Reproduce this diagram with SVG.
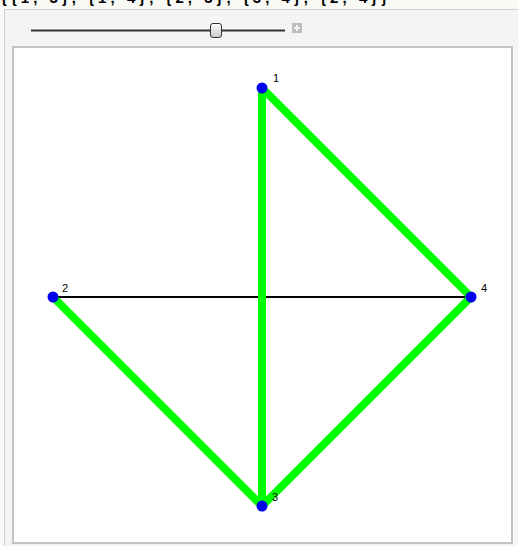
<svg xmlns="http://www.w3.org/2000/svg" width="518" height="546" viewBox="0 0 518 546">
<defs>
<style>
.lbl{font-family:"Liberation Sans",Arial,sans-serif;font-size:11px;fill:#000}
.g{stroke:#00ff00;stroke-width:8;stroke-linecap:butt}
.k{stroke:#000;stroke-width:2}
.node{fill:#0000ee}
</style>
<linearGradient id="thumb" x1="0" y1="0" x2="0" y2="1">
<stop offset="0" stop-color="#ffffff"/>
<stop offset="1" stop-color="#c8c8c8"/>
</linearGradient>
<clipPath id="topclip"><rect x="0" y="0" width="518" height="6"/></clipPath>
</defs>
<rect x="0" y="0" width="518" height="546" fill="#f9f9f5"/>
<g clip-path="url(#topclip)">
<text x="1" y="2.5" font-family="Liberation Sans,Arial,sans-serif" font-weight="bold" font-size="15" textLength="386" lengthAdjust="spacing">{{1, 3}, {1, 4}, {2, 3}, {3, 4}, {2, 4}}</text>
</g>
<rect x="4.5" y="9.5" width="520" height="540" fill="#f4f4f4" stroke="#d2d2d2" stroke-width="1"/>
<g id="slider">
<line x1="31" y1="30.5" x2="285" y2="30.5" stroke="#333" stroke-width="2"/>
<rect x="210.5" y="23.5" width="11" height="14" rx="2.5" fill="url(#thumb)" stroke="#333" stroke-width="1"/>
<rect x="292" y="23" width="10" height="10" fill="#bdbdbd"/>
<path d="M297 25v6M294 28h6" stroke="#fff" stroke-width="1.6"/>
</g>
<rect x="13" y="47" width="499" height="496" fill="#fff" stroke="#c3c3c3" stroke-width="2"/>
<g id="edges">
<line class="k" x1="53" y1="297" x2="471" y2="297"/>
<line class="g" x1="262" y1="88" x2="262" y2="506"/>
<line class="g" x1="262" y1="88" x2="471" y2="297"/>
<line class="g" x1="471" y1="297" x2="262" y2="506"/>
<line class="g" x1="53" y1="297" x2="262" y2="506"/>
</g>
<g id="n1"><circle class="node" cx="262" cy="88" r="5.5"/><text class="lbl" x="273" y="82">1</text></g>
<g id="n2"><circle class="node" cx="53" cy="297" r="5.5"/><text class="lbl" x="62" y="292">2</text></g>
<g id="n3"><circle class="node" cx="262" cy="506" r="5.5"/><text class="lbl" x="272" y="501">3</text></g>
<g id="n4"><circle class="node" cx="471" cy="297" r="5.5"/><text class="lbl" x="481" y="292">4</text></g>
</svg>
